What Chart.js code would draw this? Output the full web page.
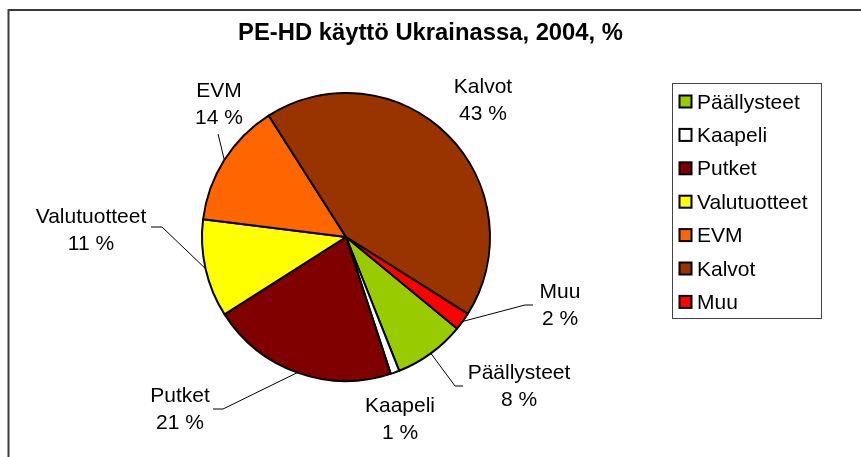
<!DOCTYPE html>
<html>
<head>
<meta charset="utf-8">
<script src="https://cdn.jsdelivr.net/npm/chart.js@4/dist/chart.umd.min.js"></script>
<style>
  html, body { margin: 0; padding: 0; background: #fff; }
  canvas { display: block; }
</style>
</head>
<body>
<canvas id="c" width="861" height="457"></canvas>
<script>
// ---- data ----
const chartTitle = 'PE-HD käyttö Ukrainassa, 2004, %';
const categories = ['Päällysteet', 'Kaapeli', 'Putket', 'Valutuotteet', 'EVM', 'Kalvot', 'Muu'];
const values = [8, 1, 21, 11, 14, 43, 2];

// ---- styles ----
const sliceColors = ['#99CC00', '#FFFFFF', '#800000', '#FFFF00', '#FF6600', '#993300', '#FF0000'];
const FONT = '"Liberation Sans", Arial, sans-serif';
// label placement relative to pie centre (px): text centre x, first baseline y, leader elbow points
const labelPlacement = [
  { dx: 173,  dy: 142,  leader: [[117, 149], [109, 149]] },
  { dx: 54,   dy: 175,  leader: null },
  { dx: -166, dy: 165,  leader: [[-133, 172], [-123, 172]] },
  { dx: -255, dy: -14,  leader: [[-195, -10], [-184, -10]] },
  { dx: -127, dy: -140, leader: [[-128, -103], [-125, -91]] },
  { dx: 137,  dy: -144, leader: null },
  { dx: 214,  dy: 61,   leader: [[187, 68], [179, 68]] }
];

const framePlugin = {
  id: 'frame',
  beforeDraw(chart) {
    const ctx = chart.ctx;
    ctx.save();
    ctx.fillStyle = '#fff';
    ctx.fillRect(0, 0, chart.width, chart.height);
    ctx.strokeStyle = '#3a3a3a';
    ctx.lineWidth = 2;
    ctx.strokeRect(8.5, 10, chart.width + 20, chart.height + 20);
    // title
    ctx.fillStyle = '#000';
    ctx.font = 'bold 23.8px ' + FONT;
    ctx.textAlign = 'center';
    ctx.textBaseline = 'alphabetic';
    ctx.fillText(chartTitle, 430.5, 40);
    ctx.restore();
  }
};

const labelPlugin = {
  id: 'sliceLabels',
  afterDatasetsDraw(chart) {
    const ctx = chart.ctx;
    const meta = chart.getDatasetMeta(0);
    ctx.save();
    meta.data.forEach((arc, i) => {
      const p = arc.getProps(['x', 'y', 'startAngle', 'endAngle', 'outerRadius'], true);
      const mid = (p.startAngle + p.endAngle) / 2;
      const ex = p.x + Math.cos(mid) * p.outerRadius;
      const ey = p.y + Math.sin(mid) * p.outerRadius;
      const pl = labelPlacement[i];
      if (pl.leader) {
        ctx.strokeStyle = '#000';
        ctx.lineWidth = 1;
        ctx.beginPath();
        pl.leader.forEach((pt, k) => {
          const lx = p.x + pt[0], ly = p.y + pt[1];
          if (k === 0) ctx.moveTo(lx, ly); else ctx.lineTo(lx, ly);
        });
        ctx.lineTo(ex, ey);
        ctx.stroke();
      }
      ctx.fillStyle = '#000';
      ctx.font = '21px ' + FONT;
      ctx.textAlign = 'center';
      ctx.textBaseline = 'alphabetic';
      ctx.fillText(categories[i], p.x + pl.dx, p.y + pl.dy);
      ctx.fillText(values[i] + ' %', p.x + pl.dx, p.y + pl.dy + 27);
    });
    ctx.restore();
  }
};

const legendPlugin = {
  id: 'boxLegend',
  afterDraw(chart) {
    const ctx = chart.ctx;
    ctx.save();
    ctx.strokeStyle = '#444';
    ctx.lineWidth = 1;
    ctx.strokeRect(672.5, 83.5, 149, 235);
    ctx.font = '21px ' + FONT;
    ctx.textAlign = 'left';
    ctx.textBaseline = 'alphabetic';
    categories.forEach((name, i) => {
      const cy = 101.5 + i * 33.4;
      ctx.fillStyle = sliceColors[i];
      ctx.fillRect(679.5, cy - 6, 12, 12);
      ctx.strokeStyle = '#000';
      ctx.lineWidth = 2;
      ctx.strokeRect(679.5, cy - 6, 12, 12);
      ctx.fillStyle = '#000';
      ctx.fillText(name, 697, cy + 7);
    });
    ctx.restore();
  }
};

new Chart(document.getElementById('c'), {
  type: 'pie',
  data: {
    labels: categories,
    datasets: [{
      data: values,
      backgroundColor: sliceColors,
      borderColor: '#000',
      borderWidth: 2
    }]
  },
  options: {
    responsive: false,
    animation: false,
    devicePixelRatio: 1,
    rotation: 129.5,
    layout: { padding: { left: 201, top: 92, right: 370, bottom: 75 } },
    plugins: {
      legend: { display: false },
      title: { display: false },
      tooltip: { enabled: false }
    }
  },
  plugins: [framePlugin, labelPlugin, legendPlugin]
});
</script>
</body>
</html>
